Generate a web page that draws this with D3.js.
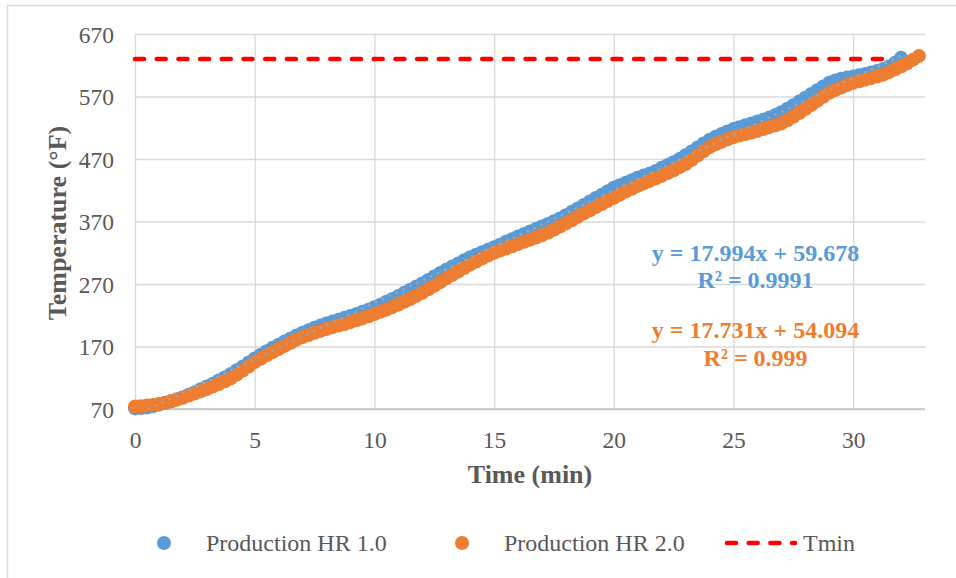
<!DOCTYPE html>
<html>
<head>
<meta charset="utf-8">
<script src="https://cdn.jsdelivr.net/npm/d3@7/dist/d3.min.js"></script>
<style>
  html, body { margin: 0; padding: 0; background: #fff; }
  svg { display: block; }
  text { font-family: "Liberation Serif", "Times New Roman", serif; }
</style>
</head>
<body>
<svg id="chart" width="956" height="578"></svg>
<script>
// Furnace heat-up logs, one reading every quarter minute
const sampleStep = 0.25;

const seriesNames = ["Production HR 1.0", "Production HR 2.0"];
const seriesColors = ["#5B9BD5", "#ED7D31"];

// Production HR 1.0 temperature (°F), four readings per minute
const tempHR1 = [
  71, 71.5, 72.5, 74.5,   77, 79.5, 82.5, 85.5,   89, 93, 97, 101.5,
  106, 110.5, 115.5, 120.5,   126, 132, 138, 144.5,   151, 157, 162.5, 168,
  173, 178, 183, 187.5,   192, 196, 200, 203.5,   207, 210, 213, 216,
  219, 222, 225.5, 229,   233, 237, 241.5, 246,   251, 256, 261, 266,
  271, 276.5, 282, 287.5,   293, 298, 303, 308,   313, 317, 321, 325,
  329, 333, 337.5, 341.5,   346, 350, 354, 358,   362, 366, 370.5, 375,
  380, 385.5, 391, 396.5,   402, 407.5, 413, 418.5,   424, 428, 432, 436,
  440, 443.5, 447, 451,   456, 460.5, 465, 470,   476, 482, 488.5, 495,
  501, 505.5, 510, 514,   518, 521, 524, 527,   530, 533, 536.5, 540.5,
  545, 550.5, 556, 562,   568, 574, 580, 586,   592, 595.5, 598.5, 600.5,
  602, 604, 606, 608.5,   611, 614, 618, 624,   632
];

// Production HR 2.0 temperature (°F), four readings per minute
const tempHR2 = [
  74, 74.5, 75.5, 76.5,   78, 80, 82.5, 85,   88, 91.5, 95, 98.5,
  102, 106, 110, 114.5,   119, 125, 131.5, 138,   145, 150.5, 156, 161,
  166, 171, 176, 181,   185, 188.5, 192, 195,   198, 201, 203.5, 206,
  209, 212, 215, 218.5,   222, 225.5, 229, 233,   237, 241.5, 246, 251,
  256, 261.5, 267, 273,   279, 284.5, 290, 295.5,   301, 306, 311, 315.5,
  320, 323.5, 327, 330.5,   334, 337.5, 341, 344.5,   348, 352.5, 357, 362,
  367, 372, 377.5, 383,   388, 393, 398, 403,   408, 413, 418, 422.5,
  427, 431, 435, 439,   443, 447.5, 452, 457,   462, 468.5, 475.5, 482.5,
  489, 493.5, 497.5, 501.5,   505, 507.5, 510, 512.5,   515, 518, 521, 524,
  527, 532, 537.5, 543.5,   550, 556.5, 563, 569.5,   576, 580.5, 584.5, 588.5,
  592, 594.5, 597, 599.5,   602, 605, 609, 613.5,   618, 623, 629, 635
];

// Linear fits of each run
const fitSlopes = [17.994, 17.731];
const fitIntercepts = [59.678, 54.094];
const fitR2 = ["0.9991", "0.999"];

// Minimum target temperature line
const tminTimes = [0, 32];
const tminValues = [630, 630];

// Axes
const xTicks = [0, 5, 10, 15, 20, 25, 30];
const yTicks = [70, 170, 270, 370, 470, 570, 670];
const xDomain = [0, 33];
const yDomain = [70, 670];
const xTitle = "Time (min)";
const yTitle = "Temperature (°F)";

// ---------------------------------------------------------------
const svg = d3.select("#chart");
const plot = { left: 135, right: 925, top: 34, bottom: 409 };
const textColor = "#595959";
const gridColor = "#D9D9D9";

const x = d3.scaleLinear().domain(xDomain).range([plot.left, plot.right]);
const y = d3.scaleLinear().domain(yDomain).range([plot.bottom, plot.top]);

// chart frame
svg.append("rect")
  .attr("x", 7.5).attr("y", 5.5)
  .attr("width", 980).attr("height", 620)
  .attr("fill", "#fff").attr("stroke", gridColor).attr("stroke-width", 1.5);

svg.append("defs").append("clipPath").attr("id", "plotClip")
  .append("rect")
  .attr("x", plot.left).attr("y", plot.top)
  .attr("width", plot.right - plot.left).attr("height", plot.bottom - plot.top);

// horizontal gridlines + y tick labels
const yAxis = d3.axisLeft(y).tickValues(yTicks)
  .tickSize(-(plot.right - plot.left)).tickPadding(21).tickFormat(d3.format("d"));
const gy = svg.append("g").attr("transform", `translate(${plot.left},0)`).call(yAxis);
gy.select(".domain").remove();
gy.selectAll(".tick line").attr("stroke", gridColor).attr("stroke-width", 1.3);
gy.selectAll(".tick text")
  .attr("fill", textColor)
  .style("font-family", '"Liberation Serif", "Times New Roman", serif')
  .style("font-size", "23.5px")
  .attr("dy", "0.35em");

// vertical gridlines + x tick labels
const xAxis = d3.axisBottom(x).tickValues(xTicks)
  .tickSize(-(plot.bottom - plot.top)).tickPadding(22).tickFormat(d3.format("d"));
const gx = svg.append("g").attr("transform", `translate(0,${plot.bottom})`).call(xAxis);
gx.select(".domain").remove();
gx.selectAll(".tick line").attr("stroke", gridColor).attr("stroke-width", 1.3);
gx.selectAll(".tick text")
  .attr("fill", textColor)
  .style("font-family", '"Liberation Serif", "Times New Roman", serif')
  .style("font-size", "23.5px");

// horizontal axis line
svg.append("line")
  .attr("x1", plot.left).attr("x2", plot.right)
  .attr("y1", plot.bottom).attr("y2", plot.bottom)
  .attr("stroke", "#BFBFBF").attr("stroke-width", 1.5);

// axis titles
svg.append("text")
  .attr("x", (plot.left + plot.right) / 2 - 0).attr("y", 483)
  .attr("text-anchor", "middle")
  .attr("fill", textColor).attr("font-weight", "bold").attr("font-size", 26)
  .text(xTitle);

svg.append("text")
  .attr("transform", "translate(66,223) rotate(-90)")
  .attr("text-anchor", "middle")
  .attr("fill", textColor).attr("font-weight", "bold").attr("font-size", 26)
  .text(yTitle);

// Tmin reference line
const tminData = tminTimes.map((t, i) => ({ t, v: tminValues[i] }));
const tminLine = d3.line().x(d => x(d.t)).y(d => y(d.v));
svg.append("path")
  .datum(tminData)
  .attr("d", tminLine)
  .attr("fill", "none")
  .attr("stroke", "#FF0000")
  .attr("stroke-width", 4.5)
  .attr("stroke-linecap", "round")
  .attr("stroke-dasharray", "9 12.7");

// scatter markers
const allSeries = [tempHR1, tempHR2].map((vals, s) =>
  vals.map((v, i) => ({ t: i * sampleStep, v, s })));

allSeries.forEach((pts, s) => {
  svg.append("g")
    .selectAll("circle")
    .data(pts)
    .join("circle")
    .attr("cx", d => x(d.t))
    .attr("cy", d => y(d.v))
    .attr("r", 7)
    .attr("fill", seriesColors[s]);
});

// linear trendlines, drawn over the markers
const trendColors = ["#A6A6A6", "#ED7D31"];
allSeries.forEach((pts, s) => {
  const tEnd = pts[pts.length - 1].t;
  const ends = [0, tEnd].map(t => ({ t, v: fitSlopes[s] * t + fitIntercepts[s] }));
  svg.append("path")
    .datum(ends)
    .attr("d", tminLine)
    .attr("clip-path", "url(#plotClip)")
    .attr("fill", "none")
    .attr("stroke", trendColors[s])
    .attr("stroke-width", 2.6)
    .attr("stroke-linecap", "round")
    .attr("stroke-dasharray", "0.01 7.6");
});

// trendline equations
const eqFmt = (s) => `y = ${fitSlopes[s].toFixed(3)}x + ${fitIntercepts[s].toFixed(3)}`;
const eqBlocks = [{ y1: 261, y2: 288 }, { y1: 338, y2: 366 }];
eqBlocks.forEach((b, s) => {
  const g = svg.append("g")
    .attr("fill", seriesColors[s]).attr("font-weight", "bold").attr("font-size", 24)
    .attr("text-anchor", "middle");
  g.append("text").attr("x", 755.5).attr("y", b.y1).text(eqFmt(s));
  g.append("text").attr("x", 755.5).attr("y", b.y2).text(`R² = ${fitR2[s]}`);
});

// legend
const legendY = 543;
const legendItems = [
  { kind: "dot", color: seriesColors[0], cx: 164, tx: 206, label: seriesNames[0] },
  { kind: "dot", color: seriesColors[1], cx: 462, tx: 504, label: seriesNames[1] },
  { kind: "dash", color: "#FF0000", x1: 727, x2: 795, tx: 803, label: "Tmin" }
];
legendItems.forEach(it => {
  if (it.kind === "dot") {
    svg.append("circle").attr("cx", it.cx).attr("cy", legendY).attr("r", 7).attr("fill", it.color);
  } else {
    svg.append("line")
      .attr("x1", it.x1).attr("x2", it.x2).attr("y1", legendY).attr("y2", legendY)
      .attr("stroke", it.color).attr("stroke-width", 4.5)
      .attr("stroke-linecap", "round").attr("stroke-dasharray", "9 12.7");
  }
  svg.append("text")
    .attr("x", it.tx).attr("y", 551)
    .attr("fill", textColor).attr("font-size", 24)
    .text(it.label);
});
</script>
</body>
</html>
